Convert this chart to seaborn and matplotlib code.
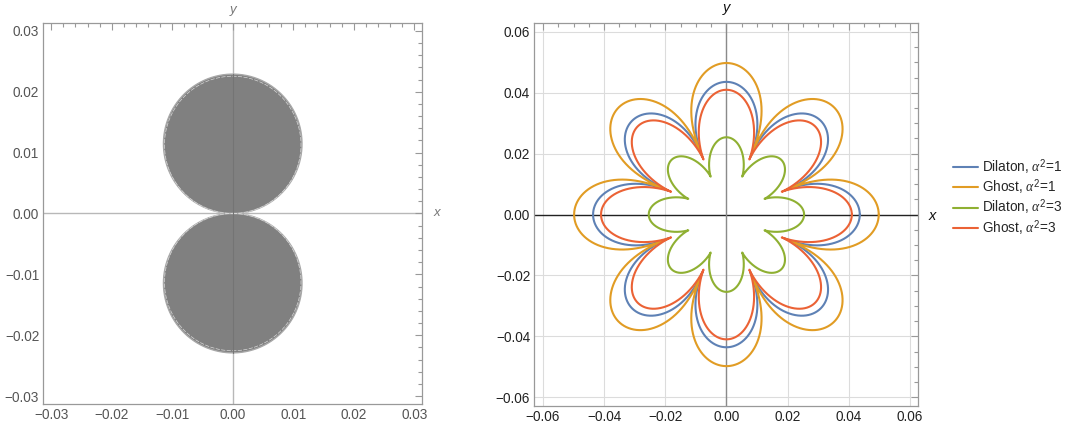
import numpy as np
import pandas as pd
import matplotlib
matplotlib.use("Agg")
import matplotlib.pyplot as plt
import seaborn as sns
from matplotlib.ticker import MultipleLocator, FuncFormatter

# left panel: two touching lobes, r = extent*|sin(theta)|
lobe_extent = 0.0229

# right panel: 8-petal curves
series_names = [r"Dilaton, $\alpha^2$=1", r"Ghost, $\alpha^2$=1",
                r"Dilaton, $\alpha^2$=3", r"Ghost, $\alpha^2$=3"]
series_colors = ["#5E81B5", "#E19C24", "#8FB032", "#EB6235"]
petal_tip_r = [0.0436, 0.0498, 0.0254, 0.0410]   # radius at petal tip
cusp_r = [0.0205, 0.0212, 0.0135, 0.0196]        # radius at inner cusp
petal_shape = [0.55, 0.5, 0.78, 0.68]            # sharpness of the cusp
n_petals = 8

sns.set_theme(style="white")
plt.rcParams["font.family"] = ["Liberation Sans", "DejaVu Sans"]
plt.rcParams["mathtext.fontset"] = "custom"
plt.rcParams["mathtext.rm"] = "Liberation Sans"
plt.rcParams["mathtext.it"] = "Liberation Serif:italic"


def fmt(v, pos):
    if abs(v) < 1e-9:
        return "0.00"
    return f"{v:.2f}".replace("-", "\u2212")


fig = plt.figure(figsize=(10.7, 4.3), dpi=100)
ax1 = fig.add_axes([0.0405, 0.0605, 0.354, 0.886])
ax2 = fig.add_axes([0.4994, 0.0565, 0.359, 0.889])

# ---- left panel
th = np.linspace(0, 2 * np.pi, 2001)
r = lobe_extent * np.abs(np.sin(th))
left = pd.DataFrame({"x": r * np.cos(th), "y": r * np.sin(th)})
ax1.axhline(0, color="#b8b8b8", lw=1, zorder=0)
ax1.axvline(0, color="#b8b8b8", lw=1, zorder=0)
ax1.fill(left["x"], left["y"], color="#808080", lw=0, zorder=1)
sns.lineplot(data=left, x="x", y="y", sort=False, estimator=None,
             color="#a8a8a8", lw=1.0, ax=ax1, zorder=2)
ax1.plot(left["x"] * 0.985, left["y"] * 0.985, color="#d8d8d8", lw=0.5,
         ls=(0, (6, 2)), zorder=2)
ax1.plot([0, 0], [-lobe_extent, lobe_extent], color="#747474", lw=0.8, zorder=3)

lim1 = 0.0313
ax1.set_xlim(-lim1, lim1)
ax1.set_ylim(-lim1, lim1)
ax1.xaxis.set_major_locator(MultipleLocator(0.01))
ax1.yaxis.set_major_locator(MultipleLocator(0.01))
ax1.xaxis.set_minor_locator(MultipleLocator(0.002))
ax1.yaxis.set_minor_locator(MultipleLocator(0.002))
ax1.text(1.039, 0.501, "x", transform=ax1.transAxes, style="italic",
         color="#777777", fontsize=9.5, ha="center", va="center")
ax1.text(0.5005, 1.034, "y", transform=ax1.transAxes, style="italic",
         color="#777777", fontsize=9.5, ha="center", va="center")

# ---- right panel
phi = np.linspace(0, 2 * np.pi, 40001)
frames = []
for name, rt, rc, p in zip(series_names, petal_tip_r, cusp_r, petal_shape):
    rr = rc + (rt - rc) * np.abs(np.cos(n_petals / 2 * phi)) ** p
    frames.append(pd.DataFrame({"x": rr * np.cos(phi), "y": rr * np.sin(phi),
                                "series": name}))
right = pd.concat(frames, ignore_index=True)

ax2.axhline(0, color="#222222", lw=1, zorder=1)
ax2.axvline(0, color="#8a8a8a", lw=1, zorder=1)
sns.lineplot(data=right, x="x", y="y", hue="series", hue_order=series_names,
             palette=series_colors, sort=False, estimator=None, lw=1.5,
             ax=ax2, zorder=3)
lim2 = 0.0628
ax2.set_xlim(-lim2, lim2)
ax2.set_ylim(-lim2, lim2)
ax2.xaxis.set_major_locator(MultipleLocator(0.02))
ax2.yaxis.set_major_locator(MultipleLocator(0.02))
ax2.xaxis.set_minor_locator(MultipleLocator(0.005))
ax2.yaxis.set_minor_locator(MultipleLocator(0.005))
ax2.grid(True, which="major", color="#dcdcdc", lw=0.8, zorder=0)
ax2.set_axisbelow(True)
ax2.text(1.036, 0.496, "x", transform=ax2.transAxes, style="italic",
         color="#111111", fontsize=10.5, ha="center", va="center")
ax2.text(0.4995, 1.04, "y", transform=ax2.transAxes, style="italic",
         color="#111111", fontsize=10.5, ha="center", va="center")
sns.move_legend(ax2, "center left", bbox_to_anchor=(1.058, 0.545), frameon=False,
                title=None, fontsize=9.8, handlelength=1.8, labelspacing=0.02,
                handletextpad=0.35)

for ax, lc in ((ax1, "#555555"), (ax2, "#222222")):
    ax.set_xlabel("")
    ax.set_ylabel("")
    ax.xaxis.set_major_formatter(FuncFormatter(fmt))
    ax.yaxis.set_major_formatter(FuncFormatter(fmt))
    ax.tick_params(which="both", direction="in", top=True, right=True,
                   color="#999999", labelsize=9.8, labelcolor=lc, width=0.8)
    ax.tick_params(which="major", length=5, pad=3)
    ax.tick_params(which="minor", length=2.8)
    for s in ax.spines.values():
        s.set_color("#999999")
        s.set_linewidth(0.9)

fig.savefig("out.png", dpi=100, facecolor="white")
